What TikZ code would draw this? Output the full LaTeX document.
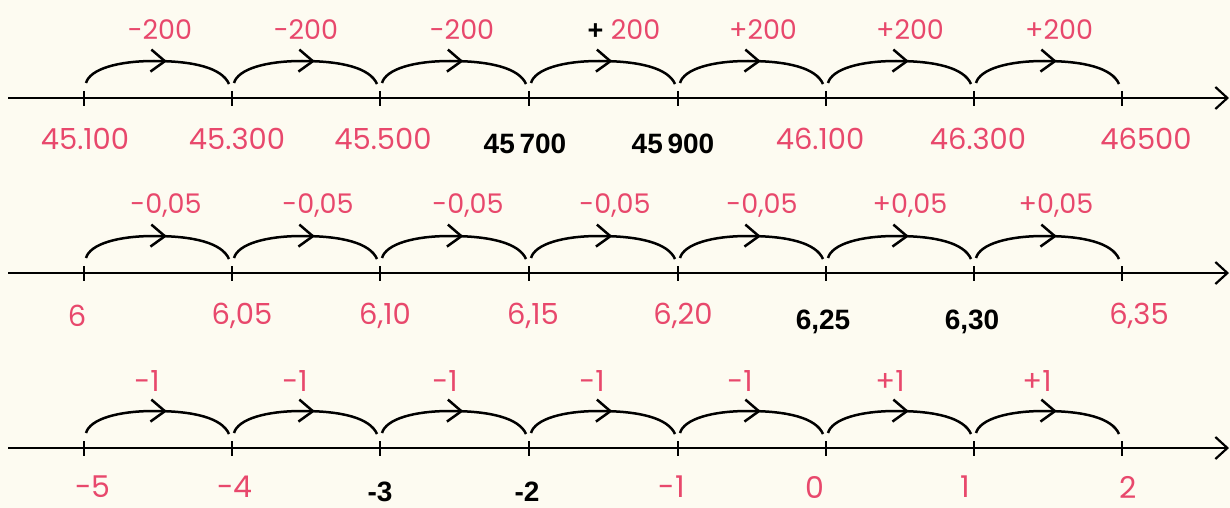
\documentclass[tikz,border=0pt]{standalone}
\usepackage{fontspec}
\setmainfont{Liberation Sans}
\newfontfamily\hand{Poppins}
\usetikzlibrary{arrows.meta,decorations.markings,calc}
\definecolor{pinkink}{RGB}{232,72,108}
\definecolor{paper}{RGB}{253,251,241}
\tikzset{
  axis/.style={line width=2.2pt, -{Straight Barb[length=12pt,width=22pt]}},
  tickmark/.style={line width=2pt},
  jump/.style={line width=2.5pt, postaction={decorate},
    decoration={markings, mark=at position 0.56 with {\arrow{Straight Barb[length=14pt,width=22pt]}}}},
  hw/.style={text=pinkink, font=\hand\fontsize{29}{29}\selectfont, inner sep=0pt},
  hwbig/.style={text=pinkink, font=\hand\fontsize{30}{30}\selectfont, inner sep=0pt},
  hwjump/.style={text=pinkink, font=\hand\fontsize{27}{27}\selectfont, inner sep=0pt},
  hwjumpbig/.style={text=pinkink, font=\hand\fontsize{29}{29}\selectfont, inner sep=0pt},
  pr/.style={text=black, font=\bfseries\fontsize{28}{28}\selectfont, inner sep=0pt},
}
\begin{document}
\begin{tikzpicture}[x=1pt,y=-1pt]
\fill[paper] (0,0) rectangle (1230,508);
\useasboundingbox (0,0) rectangle (1230,508);
\foreach \ly/\L in {98/a,273/b,448/c}{
  \coordinate (\L0) at (8,\ly);
  \coordinate (\L end) at (1229,\ly);
  \draw[axis] (\L0) -- (\L end);
  \foreach \x [count=\i] in {84,232,380,529,678,826,974,1122}{
    \coordinate (\L\i) at (\x,\ly);
    \draw[tickmark] ($(\L\i)+(0,-7)$) -- ($(\L\i)+(0,8)$);
  }
  \foreach \i [evaluate=\i as \j using int(\i+1)] in {1,...,7}{
    \draw[jump] ($(\L\i)+(2,-15)$) .. controls +(4,-14) and +(-36,0) ..
      ($(\L\i)+(70,-37)$) .. controls +(40,0) and +(-7,-16) ..
      ($(\L\j)+(-3,-14)$);
  }
}
% line 1 jump labels
\node[hwjump] (ja1) at (160,30) {-200};
\node[hwjump] (ja2) at (306,30) {-200};
\node[hwjump] (ja3) at (462,30) {-200};
\node[hwjump] (ja4) at (624,30) {{\color{black}\normalfont\bfseries+}\;200};
\node[hwjump] (ja5) at (763,30) {+200};
\node[hwjump] (ja6) at (910,30) {+200};
\node[hwjump] (ja7) at (1059,30) {+200};
% line 1 values
\node[hw] (va1) at (85,139) {45.100};
\node[hw] (va2) at (237,139) {45.300};
\node[hw] (va3) at (383,139) {45.500};
\node[pr] (va4) at (525,144) {45\,700};
\node[pr] (va5) at (673,144) {45\,900};
\node[hw] (va6) at (820,139) {46.100};
\node[hw] (va7) at (978,139) {46.300};
\node[hw] (va8) at (1146,139) {46500};
% line 2 jump labels
\node[hwjump] (jb1) at (166,206) {-0,05};
\node[hwjump] (jb2) at (318,206) {-0,05};
\node[hwjump] (jb3) at (468,206) {-0,05};
\node[hwjump] (jb4) at (615,206) {-0,05};
\node[hwjump] (jb5) at (762,206) {-0,05};
\node[hwjump] (jb6) at (910,206) {+0,05};
\node[hwjump] (jb7) at (1056,206) {+0,05};
% line 2 values
\node[hw] (vb1) at (77,316) {6};
\node[hw] (vb2) at (242,316) {6,05};
\node[hw] (vb3) at (385,316) {6,10};
\node[hw] (vb4) at (533,316) {6,15};
\node[hw] (vb5) at (683,316) {6,20};
\node[pr] (vb6) at (823,322) {6,25};
\node[pr] (vb7) at (972,322) {6,30};
\node[hw] (vb8) at (1139,316) {6,35};
% line 3 jump labels
\node[hwjumpbig] (jc1) at (147,381) {-1};
\node[hwjumpbig] (jc2) at (295,381) {-1};
\node[hwjumpbig] (jc3) at (445,381) {-1};
\node[hwjumpbig] (jc4) at (592,381) {-1};
\node[hwjumpbig] (jc5) at (740,381) {-1};
\node[hwjumpbig] (jc6) at (890,381) {+1};
\node[hwjumpbig] (jc7) at (1037,381) {+1};
% line 3 values
\node[hwbig] (vc1) at (93,487) {-5};
\node[hwbig] (vc2) at (235,487) {-4};
\node[pr] (vc3) at (380,492) {-3};
\node[pr] (vc4) at (527,492) {-2};
\node[hwbig] (vc5) at (672,487) {-1};
\node[hwbig] (vc6) at (815,487) {0};
\node[hwbig] (vc7) at (965,487) {1};
\node[hwbig] (vc8) at (1128,487) {2};
\end{tikzpicture}
\end{document}
